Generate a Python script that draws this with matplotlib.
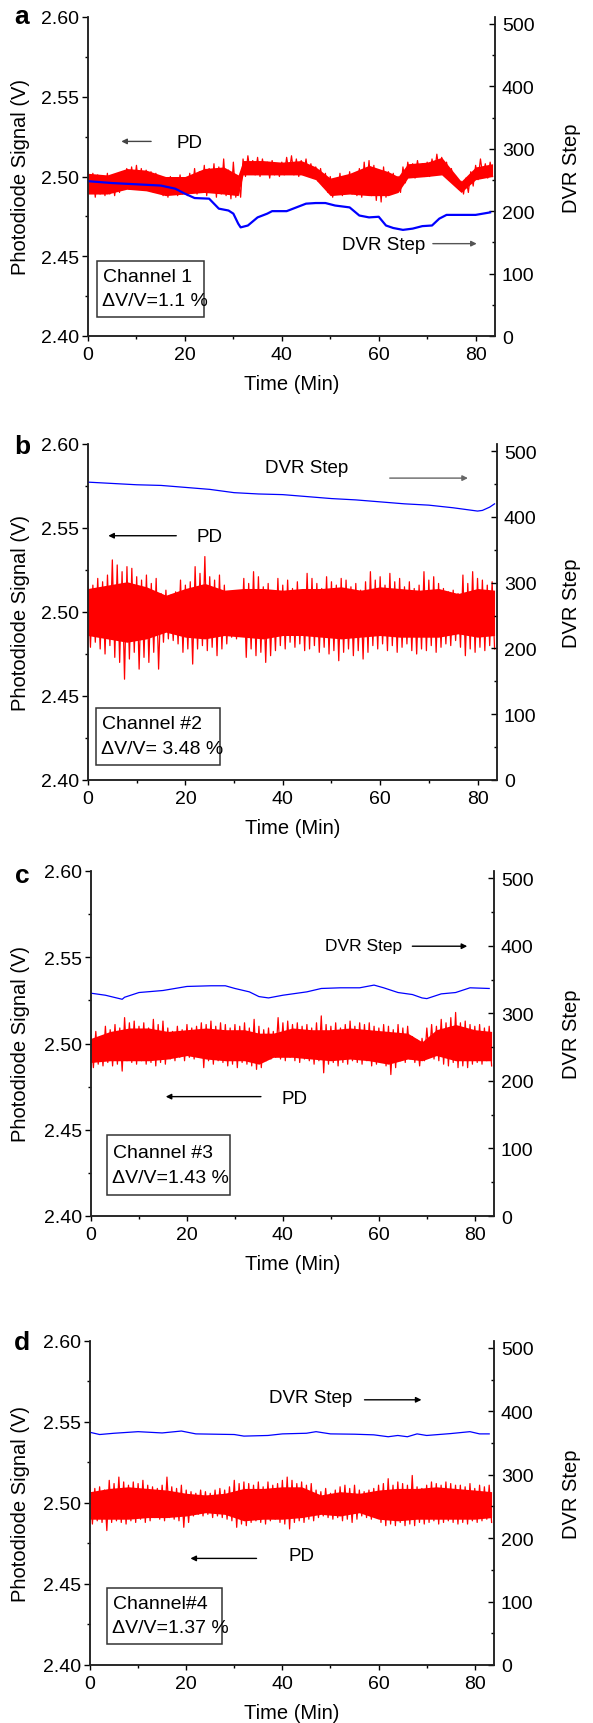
import numpy as np
import matplotlib
matplotlib.use('Agg')
import matplotlib.pyplot as plt
from matplotlib.ticker import MultipleLocator
from matplotlib.patches import Rectangle

plt.rcParams['font.family'] = ['Liberation Sans', 'DejaVu Sans']

# PD signal, per minute: upper and lower spikes (V)
pd_hi_a = [2.503, 2.502, 2.501, 2.500, 2.502, 2.499, 2.500, 2.503, 2.505, 2.506,
           2.507, 2.505, 2.504, 2.503, 2.502, 2.500, 2.499, 2.500, 2.498, 2.501,
           2.499, 2.502, 2.505, 2.503, 2.507, 2.505, 2.508, 2.506, 2.511, 2.504,
           2.509, 2.500, 2.511, 2.513, 2.510, 2.512, 2.511, 2.509, 2.510, 2.508,
           2.509, 2.512, 2.513, 2.511, 2.510, 2.511, 2.508, 2.506, 2.505, 2.502,
           2.500, 2.498, 2.502, 2.500, 2.503, 2.501, 2.505, 2.509, 2.510, 2.507,
           2.504, 2.506, 2.503, 2.502, 2.500, 2.506, 2.509, 2.508, 2.510, 2.508,
           2.509, 2.511, 2.514, 2.512, 2.509, 2.505, 2.500, 2.497, 2.499, 2.503,
           2.507, 2.511, 2.508, 2.509]
pd_lo_a = [2.490, 2.487, 2.489, 2.488, 2.489, 2.488, 2.490, 2.493, 2.492, 2.494,
           2.493, 2.492, 2.493, 2.490, 2.491, 2.488, 2.487, 2.489, 2.488, 2.489,
           2.488, 2.490, 2.489, 2.490, 2.488, 2.491, 2.487, 2.489, 2.488, 2.486,
           2.487, 2.487, 2.500, 2.502, 2.501, 2.500, 2.502, 2.499, 2.501, 2.500,
           2.501, 2.502, 2.501, 2.500, 2.502, 2.500, 2.499, 2.497, 2.494, 2.490,
           2.487, 2.489, 2.488, 2.490, 2.489, 2.488, 2.487, 2.491, 2.488, 2.485,
           2.484, 2.487, 2.489, 2.491, 2.490, 2.496, 2.500, 2.499, 2.501, 2.500,
           2.500, 2.502, 2.503, 2.501, 2.498, 2.496, 2.492, 2.489, 2.490, 2.494,
           2.498, 2.500, 2.499, 2.500]

pd_hi_b = [2.519, 2.516, 2.520, 2.518, 2.522, 2.531, 2.528, 2.524, 2.527, 2.526,
           2.521, 2.519, 2.522, 2.517, 2.520, 2.511, 2.513, 2.510, 2.512, 2.519,
           2.516, 2.518, 2.527, 2.523, 2.533, 2.521, 2.519, 2.522, 2.516, 2.510,
           2.512, 2.509, 2.520, 2.517, 2.524, 2.521, 2.515, 2.517, 2.512, 2.520,
           2.516, 2.519, 2.514, 2.518, 2.513, 2.523, 2.520, 2.517, 2.514, 2.521,
           2.518, 2.516, 2.520, 2.519, 2.515, 2.517, 2.513, 2.518, 2.524, 2.519,
           2.521, 2.516, 2.523, 2.518, 2.520, 2.515, 2.518, 2.514, 2.516, 2.524,
           2.519, 2.521, 2.517, 2.514, 2.512, 2.513, 2.511, 2.522, 2.517, 2.524,
           2.520, 2.519, 2.516, 2.518]
pd_lo_b = [2.479, 2.482, 2.478, 2.475, 2.480, 2.473, 2.470, 2.460, 2.472, 2.476,
           2.466, 2.473, 2.470, 2.476, 2.466, 2.482, 2.484, 2.483, 2.481, 2.476,
           2.478, 2.469, 2.478, 2.480, 2.477, 2.479, 2.474, 2.478, 2.481, 2.485,
           2.484, 2.486, 2.473, 2.478, 2.474, 2.476, 2.470, 2.474, 2.477, 2.480,
           2.478, 2.482, 2.479, 2.481, 2.477, 2.478, 2.480, 2.476, 2.479, 2.475,
           2.477, 2.471, 2.476, 2.478, 2.474, 2.477, 2.472, 2.476, 2.480, 2.478,
           2.481, 2.477, 2.480, 2.476, 2.479, 2.481, 2.477, 2.475, 2.478, 2.477,
           2.480, 2.476, 2.479, 2.481, 2.480, 2.483, 2.479, 2.474, 2.478, 2.476,
           2.479, 2.477, 2.480, 2.478]

pd_hi_c = [2.505, 2.507, 2.504, 2.510, 2.508, 2.511, 2.509, 2.515, 2.512, 2.513,
           2.510, 2.512, 2.509, 2.514, 2.511, 2.513, 2.509, 2.507, 2.510, 2.508,
           2.511, 2.509, 2.510, 2.512, 2.511, 2.513, 2.510, 2.512, 2.511, 2.509,
           2.511, 2.510, 2.512, 2.509, 2.514, 2.510, 2.508, 2.509, 2.507, 2.515,
           2.512, 2.513, 2.511, 2.512, 2.510, 2.511, 2.509, 2.512, 2.516, 2.511,
           2.510, 2.512, 2.509, 2.511, 2.513, 2.510, 2.512, 2.511, 2.512, 2.510,
           2.509, 2.511, 2.510, 2.508, 2.511, 2.509, 2.510, 2.504, 2.502, 2.503,
           2.509, 2.511, 2.510, 2.514, 2.512, 2.515, 2.518, 2.512, 2.513, 2.511,
           2.510, 2.511, 2.509, 2.510]
pd_lo_c = [2.486, 2.488, 2.487, 2.489, 2.487, 2.488, 2.484, 2.490, 2.489, 2.488,
           2.490, 2.488, 2.489, 2.487, 2.489, 2.488, 2.491, 2.490, 2.492, 2.490,
           2.492, 2.491, 2.493, 2.486, 2.490, 2.488, 2.490, 2.489, 2.487, 2.488,
           2.486, 2.489, 2.488, 2.487, 2.485, 2.486, 2.490, 2.491, 2.492, 2.491,
           2.490, 2.492, 2.490, 2.489, 2.491, 2.490, 2.488, 2.490, 2.483, 2.488,
           2.489, 2.487, 2.489, 2.488, 2.490, 2.489, 2.488, 2.490, 2.487, 2.488,
           2.489, 2.487, 2.482, 2.486, 2.490, 2.489, 2.491, 2.489, 2.487, 2.490,
           2.492, 2.491, 2.490, 2.488, 2.487, 2.489, 2.486, 2.487, 2.486, 2.488,
           2.489, 2.488, 2.490, 2.487]

pd_hi_d = [2.511, 2.509, 2.510, 2.508, 2.514, 2.512, 2.516, 2.513, 2.511, 2.513,
           2.512, 2.514, 2.511, 2.510, 2.509, 2.511, 2.516, 2.510, 2.509, 2.511,
           2.508, 2.507, 2.506, 2.508, 2.507, 2.506, 2.508, 2.509, 2.508, 2.510,
           2.514, 2.512, 2.513, 2.512, 2.511, 2.513, 2.510, 2.513, 2.511, 2.512,
           2.514, 2.516, 2.514, 2.512, 2.513, 2.511, 2.512, 2.508, 2.507, 2.509,
           2.506, 2.508, 2.510, 2.511, 2.509, 2.511, 2.508, 2.507, 2.508, 2.509,
           2.511, 2.512, 2.515, 2.511, 2.513, 2.512, 2.511, 2.517, 2.510, 2.509,
           2.511, 2.513, 2.512, 2.511, 2.513, 2.512, 2.511, 2.511, 2.510, 2.512,
           2.509, 2.511, 2.510, 2.511]
pd_lo_d = [2.487, 2.489, 2.488, 2.483, 2.488, 2.489, 2.488, 2.487, 2.489, 2.488,
           2.490, 2.488, 2.489, 2.491, 2.490, 2.489, 2.491, 2.490, 2.489, 2.485,
           2.488, 2.492, 2.493, 2.492, 2.493, 2.491, 2.492, 2.491, 2.490, 2.489,
           2.485, 2.487, 2.486, 2.488, 2.489, 2.488, 2.487, 2.489, 2.490, 2.488,
           2.487, 2.484, 2.488, 2.489, 2.488, 2.490, 2.489, 2.491, 2.492, 2.491,
           2.490, 2.491, 2.489, 2.490, 2.488, 2.490, 2.492, 2.491, 2.490, 2.491,
           2.488, 2.486, 2.487, 2.486, 2.488, 2.486, 2.487, 2.486, 2.488, 2.487,
           2.488, 2.489, 2.487, 2.488, 2.489, 2.488, 2.487, 2.488, 2.487, 2.489,
           2.488, 2.489, 2.490, 2.488]

# dense part of the PD trace (solid red band)
core_t_a = [0, 4, 8, 12, 16, 20, 24, 28, 31, 32, 36, 40, 44, 47, 50, 54, 58, 62,
            64, 66, 70, 73, 77, 80, 83.5]
core_lo_a = [2.489, 2.489, 2.492, 2.491, 2.488, 2.489, 2.490, 2.489, 2.488, 2.501,
             2.501, 2.501, 2.501, 2.498, 2.488, 2.489, 2.488, 2.488, 2.490, 2.499,
             2.500, 2.501, 2.490, 2.498, 2.500]
core_hi_a = [2.502, 2.501, 2.505, 2.504, 2.500, 2.500, 2.505, 2.506, 2.501, 2.510,
             2.510, 2.509, 2.510, 2.506, 2.499, 2.502, 2.507, 2.503, 2.500, 2.508,
             2.509, 2.512, 2.497, 2.506, 2.508]

core_t_b = [0, 4, 8, 12, 16, 20, 24, 28, 32, 36, 40, 44, 48, 52, 56, 60, 64, 68,
            72, 76, 80, 83.5]
core_lo_b = [2.486, 2.484, 2.482, 2.484, 2.488, 2.485, 2.484, 2.486, 2.485, 2.484,
             2.486, 2.486, 2.485, 2.484, 2.485, 2.486, 2.485, 2.485, 2.485, 2.487,
             2.485, 2.486]
core_hi_b = [2.514, 2.516, 2.518, 2.515, 2.510, 2.514, 2.517, 2.513, 2.514, 2.514,
             2.513, 2.514, 2.514, 2.515, 2.513, 2.515, 2.514, 2.513, 2.514, 2.511,
             2.514, 2.513]

core_t_c = [0, 4, 8, 12, 16, 20, 24, 28, 32, 35, 38, 42, 46, 50, 54, 58, 62, 66,
            69, 72, 76, 80, 83.5]
core_lo_c = [2.489, 2.490, 2.490, 2.490, 2.491, 2.493, 2.491, 2.490, 2.490, 2.488,
             2.492, 2.492, 2.491, 2.490, 2.491, 2.490, 2.488, 2.491, 2.490, 2.493,
             2.490, 2.490, 2.490]
core_hi_c = [2.503, 2.507, 2.509, 2.509, 2.507, 2.508, 2.509, 2.508, 2.508, 2.506,
             2.506, 2.509, 2.508, 2.508, 2.509, 2.508, 2.507, 2.506, 2.501, 2.508,
             2.511, 2.508, 2.507]

core_t_d = [0, 4, 8, 12, 16, 20, 24, 28, 32, 36, 40, 44, 48, 52, 56, 60, 64, 68,
            72, 76, 80, 83.5]
core_lo_d = [2.490, 2.490, 2.490, 2.491, 2.491, 2.492, 2.494, 2.493, 2.489, 2.490,
             2.490, 2.491, 2.493, 2.492, 2.494, 2.490, 2.489, 2.490, 2.490, 2.490,
             2.490, 2.491]
core_hi_d = [2.507, 2.509, 2.510, 2.509, 2.508, 2.506, 2.505, 2.506, 2.509, 2.509,
             2.510, 2.510, 2.505, 2.507, 2.506, 2.508, 2.509, 2.509, 2.510, 2.509,
             2.508, 2.507]

# DVR step (right axis)
dvr_t_a = [0, 5, 10, 15, 18, 20, 22, 25, 26, 27, 29, 30, 31, 31.5, 33, 35, 37, 38,
           41, 43, 45, 47, 49, 51, 54, 56, 58, 60, 61.5, 63, 65, 67, 69, 71, 72.5,
           74, 77, 80, 83]
dvr_a = [248, 245, 243, 241, 236, 228, 221, 220, 212, 204, 201, 196, 180, 174,
         177, 190, 196, 200, 200, 206, 212, 213, 213, 209, 206, 193, 190, 191,
         177, 173, 170, 172, 176, 177, 188, 194, 194, 194, 198]

dvr_t_b = [0, 5, 10, 15, 20, 25, 30, 35, 40, 45, 50, 55, 60, 65, 70, 75, 78, 80,
           81, 82.5, 83.5]
dvr_b = [453, 451, 449, 448, 445, 442, 437, 435, 434, 431, 428, 426, 423, 420,
         418, 414, 411, 409, 410, 415, 420]

dvr_t_c = [0, 3, 6.5, 7, 10, 15, 20, 25, 28, 30, 33, 35, 37, 40, 45, 48, 52, 56,
           59, 61, 64, 67, 69, 70, 73, 76, 79, 83]
dvr_c = [330, 327, 321, 324, 331, 334, 340, 341, 341, 337, 332, 325, 323, 327,
         332, 337, 338, 338, 342, 338, 331, 328, 323, 322, 329, 331, 338, 337]

dvr_t_d = [0, 2, 5, 10, 15, 19, 22, 30, 32, 37, 40, 45, 47, 50, 55, 59, 62, 64,
           66, 68, 70, 75, 79, 81, 83]
dvr_d = [367, 363.5, 365.5, 368, 366, 369, 364.5, 363.5, 361, 362, 364.5, 365.5,
         368, 364.5, 364, 363, 360, 362, 360, 364.5, 362, 365, 368, 364.5, 364.5]

channel_labels = ['Channel 1', 'Channel #2', 'Channel #3', 'Channel#4']
dv_labels = ['\u0394V/V=1.1 %', '\u0394V/V= 3.48 %', '\u0394V/V=1.43 %', '\u0394V/V=1.37 %']
letters = ['a', 'b', 'c', 'd']

W, H = 593, 1724
fig = plt.figure(figsize=(W / 100, H / 100), dpi=100)

# axes boxes in pixels: left, right, top, bottom
boxes = [(88, 495, 18, 337), (88, 497, 445, 781), (91, 494, 872, 1217), (90, 494, 1342, 1666)]
letter_y = [17, 447, 876, 1343]

pd_all = [(pd_hi_a, pd_lo_a), (pd_hi_b, pd_lo_b), (pd_hi_c, pd_lo_c), (pd_hi_d, pd_lo_d)]
core_all = [(core_t_a, core_lo_a, core_hi_a), (core_t_b, core_lo_b, core_hi_b),
            (core_t_c, core_lo_c, core_hi_c), (core_t_d, core_lo_d, core_hi_d)]
dvr_all = [(dvr_t_a, dvr_a), (dvr_t_b, dvr_b), (dvr_t_c, dvr_c), (dvr_t_d, dvr_d)]
dvr_lw = [1.6, 0.9, 0.9, 0.9]

# annotation layout per panel: text x, y, arrow start, arrow end, arrow y, colour
pd_note = [(21.0, 2.5216, 13.6, 6.3, 2.522, '#444'),
           (25.0, 2.5448, 18.7, 3.6, 2.5454, 'k'),
           (42.5, 2.4684, 36.0, 15.0, 2.4692, 'k'),
           (44.0, 2.4674, 35.2, 20.3, 2.4658, 'k')]
dvr_note = [(61.0, 2.4573, 70.6, 80.8, 2.4579, '#555'),
            (45.0, 2.5860, 61.4, 78.6, 2.5797, '#666'),
            (56.9, 2.5570, 66.4, 79.0, 2.5564, 'k'),
            (45.8, 2.5654, 56.5, 69.5, 2.5637, 'k')]
chan_box = [(1.8, 24.0, 2.412, 2.447), (1.6, 27.2, 2.409, 2.443),
            (3.3, 29.0, 2.412, 2.4467), (3.6, 27.4, 2.4132, 2.4474)]
dvr_fs = [13.5, 13.5, 12.5, 13.5]

for i in range(4):
    l, r, t, b = boxes[i]
    ax = fig.add_axes([l / W, 1 - b / H, (r - l) / W, (b - t) / H])
    ax2 = ax.twinx()
    ct, clo, chi = core_all[i]
    ax.fill_between(ct, clo, chi, color='#ff0000', lw=0)
    hi, lo = pd_all[i]
    sig = np.column_stack([hi, lo]).ravel()
    tt = np.linspace(0, 83.5, len(sig))
    ax.plot(tt, sig, color='#ff0000', lw=0.9)
    dt, dv = dvr_all[i]
    ax2.plot(dt, dv, color='#0000ff', lw=dvr_lw[i])

    ax.set_xlim(0, 84)
    ax.set_ylim(2.40, 2.60)
    ax2.set_ylim(0, 511)
    ax.xaxis.set_major_locator(MultipleLocator(20))
    ax.xaxis.set_minor_locator(MultipleLocator(10))
    ax.yaxis.set_major_locator(MultipleLocator(0.05))
    ax.yaxis.set_minor_locator(MultipleLocator(0.025))
    ax2.yaxis.set_major_locator(MultipleLocator(100))
    ax2.yaxis.set_minor_locator(MultipleLocator(50))
    ax.yaxis.set_major_formatter(plt.FormatStrFormatter('%.2f'))

    for a in (ax, ax2):
        a.spines['top'].set_visible(False)
        for s in a.spines.values():
            s.set_color('#222')
            s.set_linewidth(1.1)
    ax.tick_params(axis='y', which='major', direction='out', length=4.5, width=1, pad=2, labelsize=14)
    ax.tick_params(axis='y', which='minor', direction='out', length=2.5, width=1)
    ax.tick_params(axis='x', which='major', direction='out', length=3.5, width=1, pad=4, labelsize=14)
    ax.tick_params(axis='x', which='minor', direction='out', length=2.5, width=1)
    ax2.tick_params(axis='y', which='major', direction='in', length=4, width=1, pad=5, labelsize=14)
    ax2.tick_params(axis='y', which='minor', direction='in', length=2.5, width=1)

    hpx = b - t
    wpx = r - l
    ax.set_ylabel('Photodiode Signal (V)', fontsize=14.5)
    ax.yaxis.set_label_coords((30 - l) / wpx, 0.5)
    ax2.set_ylabel('DVR Step', fontsize=14.5, rotation=90)
    ax2.yaxis.set_label_coords((562 - l) / wpx, 0.53)
    ax.set_xlabel('Time (Min)', fontsize=14.5)
    ax.xaxis.set_label_coords(0.5, -38 / hpx)

    # annotations
    px, py, a0, a1, ay, ac = pd_note[i]
    ax.text(px, py, 'PD', fontsize=13.5, ha='center', va='center')
    ax.annotate('', xy=(a1, ay), xytext=(a0, ay),
                arrowprops=dict(arrowstyle='-|>', color=ac, lw=1.0, mutation_scale=8))
    dx, dy, b0, b1, by, bc = dvr_note[i]
    ax.text(dx, dy, 'DVR Step', fontsize=dvr_fs[i], ha='center', va='center')
    ax.annotate('', xy=(b1, by), xytext=(b0, by),
                arrowprops=dict(arrowstyle='-|>', color=bc, lw=1.0, mutation_scale=8))

    x0, x1, y0, y1 = chan_box[i]
    ax.add_patch(Rectangle((x0, y0), x1 - x0, y1 - y0, fill=True, facecolor='white',
                           edgecolor='#333', lw=1.1, zorder=5))
    ax.text(x0 + 1.2, y0 + (y1 - y0) * 0.72, channel_labels[i], fontsize=14,
            ha='left', va='center', zorder=6)
    ax.text(x0 + 1.0, y0 + (y1 - y0) * 0.29, dv_labels[i], fontsize=14,
            ha='left', va='center', zorder=6)

    fig.text(22 / W, 1 - letter_y[i] / H, letters[i], fontsize=19, fontweight='bold',
             ha='center', va='center')

fig.savefig('out.png', dpi=100)
